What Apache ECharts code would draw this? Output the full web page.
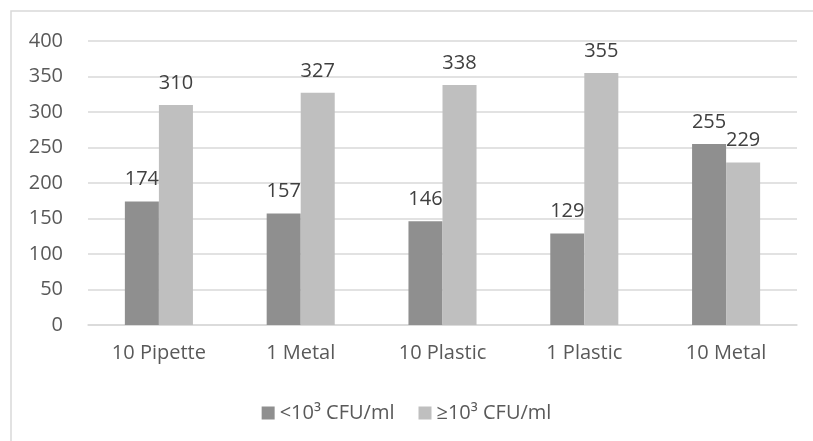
<!DOCTYPE html>
<html>
<head>
<meta charset="utf-8">
<script src="https://cdn.jsdelivr.net/npm/echarts@6/dist/echarts.min.js"></script>
<style>
  html, body { margin: 0; padding: 0; background: #fff; }
  #chart { width: 813px; height: 441px; }
</style>
</head>
<body>
<div id="chart"></div>
<script>
// Categories and counts for each CFU group
const categories = ['10 Pipette', '1 Metal', '10 Plastic', '1 Plastic', '10 Metal'];
const belowThreshold = [174, 157, 146, 129, 255];
const aboveThreshold = [310, 327, 338, 355, 229];
const seriesNames = ['<10³ CFU/ml', '≥10³ CFU/ml'];
const yTicks = { min: 0, max: 400, interval: 50 };

const fontFamily = '"Open Sans", "Noto Sans", sans-serif';
const textColor = '#595959';

const chart = echarts.init(document.getElementById('chart'));

function barSeries(name, data, color) {
  return {
    name: name,
    type: 'bar',
    data: data,
    barGap: '0%',
    barCategoryGap: '52%',
    itemStyle: { color: color },
    label: {
      show: true,
      position: 'top',
      distance: 12,
      color: '#404040',
      fontFamily: fontFamily,
      fontSize: 20
    },
    emphasis: { disabled: true }
  };
}

chart.setOption({
  animation: false,
  backgroundColor: '#ffffff',
  graphic: [{
    type: 'rect',
    shape: { x: 11, y: 11, width: 840, height: 500 },
    style: { fill: 'none', stroke: '#d9d9d9', lineWidth: 1.5 },
    silent: true
  }],
  grid: { left: 88, right: 16, top: 41, bottom: 116 },
  legend: {
    bottom: 13,
    left: 'center',
    itemWidth: 13,
    itemHeight: 13,
    itemGap: 24,
    icon: 'rect',
    textStyle: { color: textColor, fontFamily: fontFamily, fontSize: 20 },
    data: seriesNames
  },
  xAxis: {
    type: 'category',
    data: categories,
    axisTick: { show: false },
    axisLine: { lineStyle: { color: '#d9d9d9', width: 1.5 } },
    axisLabel: { color: textColor, fontFamily: fontFamily, fontSize: 20, margin: 18 }
  },
  yAxis: {
    type: 'value',
    min: yTicks.min,
    max: yTicks.max,
    interval: yTicks.interval,
    axisLine: { show: false },
    axisTick: { show: false },
    axisLabel: { color: textColor, fontFamily: fontFamily, fontSize: 20, margin: 25 },
    splitLine: { lineStyle: { color: '#d9d9d9', width: 1.5 } }
  },
  series: [
    barSeries(seriesNames[0], belowThreshold, '#8f8f8f'),
    barSeries(seriesNames[1], aboveThreshold, '#bfbfbf')
  ]
});
</script>
</body>
</html>
